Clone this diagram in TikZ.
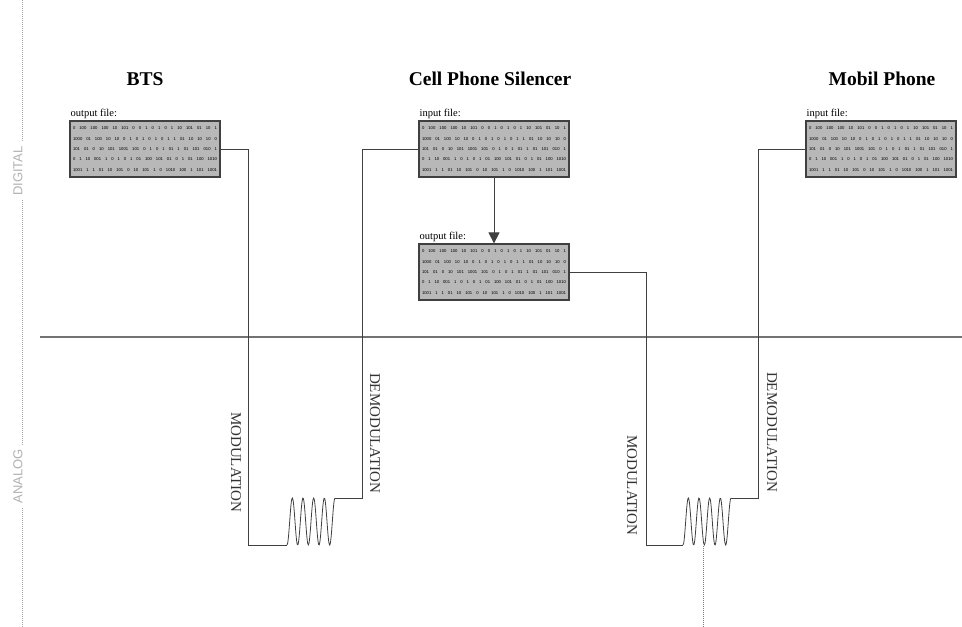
\documentclass[tikz,border=0pt]{standalone}
\usepackage{fontspec}
\setmainfont{Liberation Serif}
\setsansfont{Liberation Sans}
\usetikzlibrary{arrows.meta}

\newcommand{\bitrow}[1]{\makebox[144pt][s]{#1}}
\newcommand{\bitblock}{%
  \bitrow{0 100 100 100 10 101 0 0 1 0 1 0 1 10 101 01 10 1}\\
  \bitrow{1000 01 100 10 10 0 1 0 1 0 1 0 1 1 01 10 10 10 0}\\
  \bitrow{101 01 0 10 101 1001 101 0 1 0 1 01 1 01 101 010 1}\\
  \bitrow{0 1 10 001 1 0 1 0 1 01 100 101 01 0 1 01 100 1010}\\
  \bitrow{1001 1 1 01 10 101 0 10 101 1 0 1010 100 1 101 1001}}

\begin{document}
\begin{tikzpicture}[x=1pt,y=-1pt,
  wire/.style={draw=black!75, line width=0.8pt},
  axislbl/.style={font=\sffamily\fontsize{13}{13}\selectfont, text=black!30, fill=white, inner sep=4pt},
  steplbl/.style={font=\fontsize{15}{15}\selectfont, text=black!80, rotate=-90, inner sep=0pt}]
\useasboundingbox (0,0) rectangle (962,627);

% titles
\begin{scope}[every node/.style={font=\bfseries\fontsize{19.5}{20}\selectfont}]
  \node (btstitle) at (145,79) {BTS};
  \node (siltitle) at (490,79) {Cell Phone Silencer};
  \node (mobtitle) at (882,79) {Mobil Phone};
\end{scope}

% digital / analog axis
\coordinate (axistop) at (22,0);
\coordinate (axisbot) at (22,627);
\draw[black!35, dash pattern=on 1pt off 1pt] (axistop) -- (axisbot);
\node[axislbl, rotate=90] (digital) at (18,171) {DIGITAL};
\node[axislbl, rotate=90] (analog) at (18,476) {ANALOG};
\coordinate (splitl) at (40,337);
\coordinate (splitr) at (962,337);
\draw[black!55, line width=1.5pt] (splitl) -- (splitr);

% files
\begin{scope}[every node/.style={draw=black!75, fill=black!28, line width=1.2pt,
    minimum width=150, minimum height=56, inner sep=0pt, align=center,
    font=\sffamily\fontsize{4.2}{10.4}\selectfont}]
  \node (btsfile) at (145,149) {\bitblock};
  \node (silin) at (494,149) {\bitblock};
  \node (silout) at (494,272) {\bitblock};
  \node (mobfile) at (881,149) {\bitblock};
\end{scope}
\begin{scope}[every node/.style={anchor=south west, inner sep=1pt,
    font=\fontsize{10.5}{11}\selectfont}]
  \node at (btsfile.north west) {output file:};
  \node at (silin.north west) {input file:};
  \node at (silout.north west) {output file:};
  \node at (mobfile.north west) {input file:};
\end{scope}
\draw[wire, -{Triangle[width=11pt,length=11pt]}] (silin.south) -- (silout.north);

% BTS -> silencer
\coordinate (m1a) at (248,149);
\coordinate (m1b) at (248,545);
\coordinate (w1s) at (287,545);
\coordinate (w1e) at (335,498);
\coordinate (d1b) at (362,498);
\coordinate (d1a) at (362,149);
\draw[wire] (btsfile.east) -- (m1a) -- (m1b) -- (w1s);
\draw[wire] plot[smooth, samples=80, domain=0:48] ({287+\x},{521.5+23.5*cos(\x/48*1620)});
\draw[wire] (w1e) -- (d1b) -- (d1a) -- (silin.west);
\node[steplbl] (mod1) at (236,462) {MODULATION};
\node[steplbl] (demod1) at (375,433) {DEMODULATION};

% silencer -> mobile
\coordinate (m2a) at (646,272);
\coordinate (m2b) at (646,545);
\coordinate (w2s) at (683,545);
\coordinate (w2e) at (731,498);
\coordinate (d2b) at (758,498);
\coordinate (d2a) at (758,149);
\draw[wire] (silout.east) -- (m2a) -- (m2b) -- (w2s);
\draw[wire] plot[smooth, samples=80, domain=0:48] ({683+\x},{521.5+23.5*cos(\x/48*1620)});
\draw[wire] (w2e) -- (d2b) -- (d2a) -- (mobfile.west);
\node[steplbl] (mod2) at (632,485) {MODULATION};
\node[steplbl] (demod2) at (772,432) {DEMODULATION};

\coordinate (jamtop) at (703,546);
\coordinate (jambot) at (703,627);
\draw[black!50, dash pattern=on 1pt off 1pt] (jamtop) -- (jambot);
\end{tikzpicture}
\end{document}
